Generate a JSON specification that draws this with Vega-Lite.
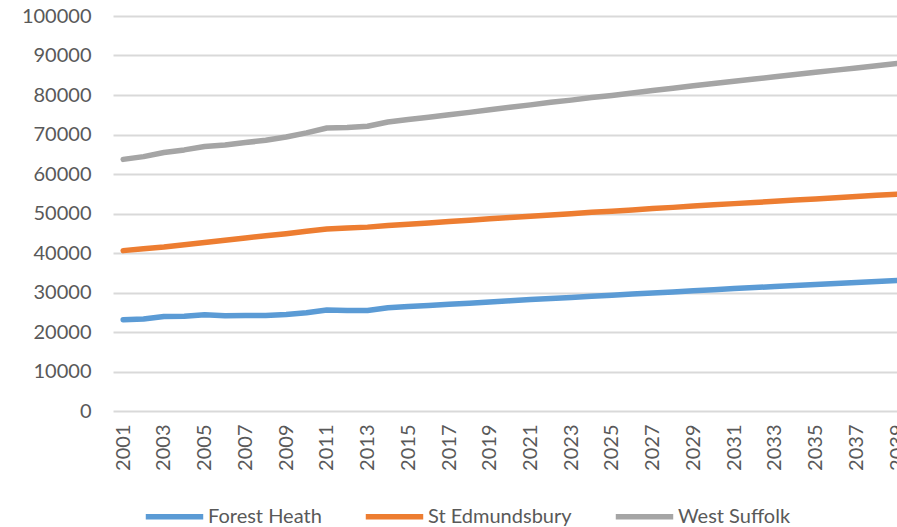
{
  "$schema": "https://vega.github.io/schema/vega-lite/v6.json",
  "autosize": {"type": "none"},
  "padding": {"left": 113, "top": 16, "right": 0, "bottom": 116},
  "width": 784,
  "height": 395,
  "background": "white",
  "config": {
    "view": {"stroke": null},
    "font": "Lato",
    "axis": {"labelFont": "Lato", "labelColor": "#595959", "labelFontSize": 20, "ticks": false, "domain": false}
  },
  "datasets": {
    "pop": [
      {"year": 2001, "FH": 23100, "SE": 40600, "WS": 63700},
      {"year": 2002, "FH": 23300, "SE": 41100, "WS": 64400},
      {"year": 2003, "FH": 23950, "SE": 41500, "WS": 65450},
      {"year": 2004, "FH": 24000, "SE": 42100, "WS": 66100},
      {"year": 2005, "FH": 24350, "SE": 42650, "WS": 66950},
      {"year": 2006, "FH": 24100, "SE": 43250, "WS": 67350},
      {"year": 2007, "FH": 24150, "SE": 43800, "WS": 67950},
      {"year": 2008, "FH": 24200, "SE": 44350, "WS": 68550},
      {"year": 2009, "FH": 24450, "SE": 44900, "WS": 69350},
      {"year": 2010, "FH": 24850, "SE": 45500, "WS": 70400},
      {"year": 2011, "FH": 25550, "SE": 46100, "WS": 71650},
      {"year": 2012, "FH": 25450, "SE": 46300, "WS": 71750},
      {"year": 2013, "FH": 25450, "SE": 46550, "WS": 72100},
      {"year": 2014, "FH": 26150, "SE": 46950, "WS": 73150},
      {"year": 2015, "FH": 26450, "SE": 47300, "WS": 73800},
      {"year": 2016, "FH": 26700, "SE": 47600, "WS": 74350},
      {"year": 2017, "FH": 27000, "SE": 48000, "WS": 75000},
      {"year": 2018, "FH": 27300, "SE": 48300, "WS": 75600},
      {"year": 2019, "FH": 27600, "SE": 48650, "WS": 76250},
      {"year": 2020, "FH": 27900, "SE": 49000, "WS": 76900},
      {"year": 2021, "FH": 28200, "SE": 49300, "WS": 77500},
      {"year": 2022, "FH": 28500, "SE": 49650, "WS": 78150},
      {"year": 2023, "FH": 28750, "SE": 49950, "WS": 78700},
      {"year": 2024, "FH": 29050, "SE": 50300, "WS": 79350},
      {"year": 2025, "FH": 29300, "SE": 50600, "WS": 79900},
      {"year": 2026, "FH": 29600, "SE": 50900, "WS": 80500},
      {"year": 2027, "FH": 29900, "SE": 51250, "WS": 81150},
      {"year": 2028, "FH": 30150, "SE": 51550, "WS": 81700},
      {"year": 2029, "FH": 30450, "SE": 51900, "WS": 82350},
      {"year": 2030, "FH": 30700, "SE": 52200, "WS": 82900},
      {"year": 2031, "FH": 31000, "SE": 52500, "WS": 83500},
      {"year": 2032, "FH": 31250, "SE": 52800, "WS": 84050},
      {"year": 2033, "FH": 31500, "SE": 53100, "WS": 84600},
      {"year": 2034, "FH": 31800, "SE": 53400, "WS": 85200},
      {"year": 2035, "FH": 32050, "SE": 53700, "WS": 85750},
      {"year": 2036, "FH": 32300, "SE": 54000, "WS": 86300},
      {"year": 2037, "FH": 32550, "SE": 54300, "WS": 86850},
      {"year": 2038, "FH": 32800, "SE": 54600, "WS": 87400},
      {"year": 2039, "FH": 33050, "SE": 54900, "WS": 87950}
    ]
  },
  "data": {"name": "pop"},
  "transform": [
    {"fold": ["FH", "SE", "WS"], "as": ["key", "value"]},
    {"lookup": "key", "from": {"data": {"values": [
      {"key": "FH", "district": "Forest Heath"},
      {"key": "SE", "district": "St Edmundsbury"},
      {"key": "WS", "district": "West Suffolk"}
    ]}, "key": "key", "fields": ["district"]}}
  ],
  "mark": {"type": "line", "strokeWidth": 5.5, "strokeCap": "round", "strokeJoin": "round", "clip": false},
  "encoding": {
    "x": {
      "field": "year", "type": "quantitative",
      "scale": {"domain": [2000.5, 2039], "nice": false, "zero": false},
      "axis": {
        "title": null, "grid": false,
        "values": [2001, 2003, 2005, 2007, 2009, 2011, 2013, 2015, 2017, 2019, 2021, 2023, 2025, 2027, 2029, 2031, 2033, 2035, 2037, 2039],
        "format": "d", "labelAngle": 270, "labelAlign": "right", "labelBaseline": "middle",
        "labelPadding": 13, "labelFlush": false, "labelOverlap": false, "labelBound": false
      }
    },
    "y": {
      "field": "value", "type": "quantitative",
      "scale": {"domain": [0, 100000], "nice": false},
      "axis": {
        "title": null, "grid": true, "gridColor": "#d9d9d9", "gridWidth": 2,
        "values": [0, 10000, 20000, 30000, 40000, 50000, 60000, 70000, 80000, 90000, 100000],
        "format": "d", "labelPadding": 22, "labelFlush": false, "labelOverlap": false
      }
    },
    "color": {
      "field": "district", "type": "nominal",
      "scale": {"domain": ["Forest Heath", "St Edmundsbury", "West Suffolk"], "range": ["#5B9BD5", "#ED7D31", "#A5A5A5"]},
      "legend": {
        "title": null, "orient": "none", "direction": "horizontal",
        "legendX": 30, "legendY": 469,
        "symbolType": "stroke", "symbolSize": 3300, "symbolStrokeWidth": 5.5,
        "labelFont": "Lato", "labelFontSize": 20, "labelColor": "#595959",
        "labelOffset": 2, "columnPadding": 32
      }
    }
  }
}
